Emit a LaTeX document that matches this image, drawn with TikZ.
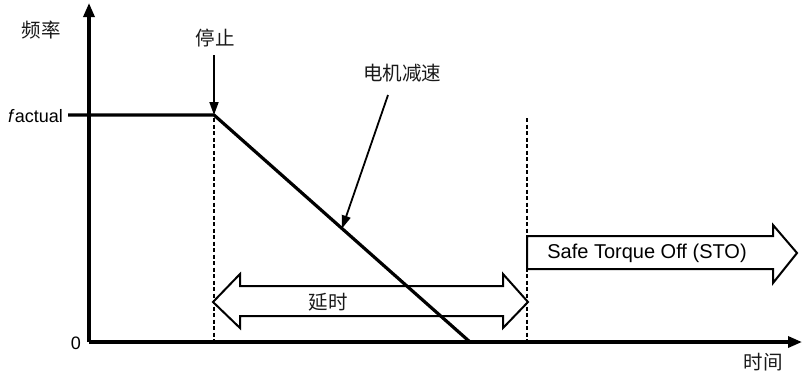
\documentclass[tikz,border=0pt]{standalone}
\usepackage{fontspec}
\setmainfont{Liberation Sans}
\newfontfamily\cjk{Noto Sans CJK SC}
\usetikzlibrary{arrows.meta,calc}
\begin{document}
\begin{tikzpicture}[x=1pt,y=-1pt,
  axis/.style={line width=3.2pt,-{Triangle[length=14pt,width=11pt]}},
  curve/.style={line width=3.2pt},
  guide/.style={line width=1.3pt,dash pattern=on 4pt off 2.5pt},
  pointer/.style={line width=1.8pt,-{Triangle[length=13pt,width=9pt]}},
  bigarrow/.style={line width=2pt,fill=white,line join=miter},
  cjklabel/.style={font=\cjk\fontsize{19.5}{22}\selectfont,text=black!90,inner sep=0pt},
  latin/.style={font=\fontsize{20}{23}\selectfont,inner sep=0pt}]
\useasboundingbox (0,0) rectangle (802,376);
% key points
\coordinate (O) at (89,342);
\coordinate (Ytop) at (89,3);
\coordinate (Xend) at (802,342);
\coordinate (Fa) at (68,115);
\coordinate (R0) at (214,115);
\coordinate (R1) at (470,342);
\coordinate (D0t) at (214,118);
\coordinate (D0b) at (214,342);
\coordinate (D1t) at (527,118);
\coordinate (D1b) at (527,342);
\coordinate (Mid) at ($(R0)!0.5!(R1)$);
% guides
\draw[guide] (D0t) -- (D0b);
\draw[guide] (D1t) -- (D1b);
% STO arrow
\draw[bigarrow] (527,236) -- (773,236) -- (773,225) -- (797,253) -- (773,283) -- (773,269) -- (527,269) -- cycle;
\node[latin] (sto) at (647,253) {Safe Torque Off (STO)};
% delay double arrow
\draw[bigarrow] (213,302) -- (240,274) -- (240,286) -- (503,286) -- (503,274) -- (528,302) -- (503,328) -- (503,316) -- (240,316) -- (240,328) -- cycle;
\node[cjklabel] (delay) at (328,302) {延时};
% axes
\draw[axis] (O) -- (Ytop);
\draw[axis] (O) -- (Xend);
% curve
\draw[curve,line join=miter] (Fa) -- (R0) -- (R1);
% labels
\node[cjklabel] (freq) at (41,30) {频率};
\node[cjklabel] (time) at (763,362) {时间};
\node[latin,anchor=east,font=\fontsize{18}{21}\selectfont] (fact) at (63,116) {\textit{f}actual};
\node[latin,anchor=east,font=\fontsize{18}{21}\selectfont] (zero) at (81,343) {0};
\node[cjklabel] (stop) at (215,38) {停止};
\node[cjklabel] (decel) at (402,73) {电机减速};
\draw[pointer] (214,55) -- (R0);
\draw[pointer] (388,95) -- (Mid);
\end{tikzpicture}
\end{document}
